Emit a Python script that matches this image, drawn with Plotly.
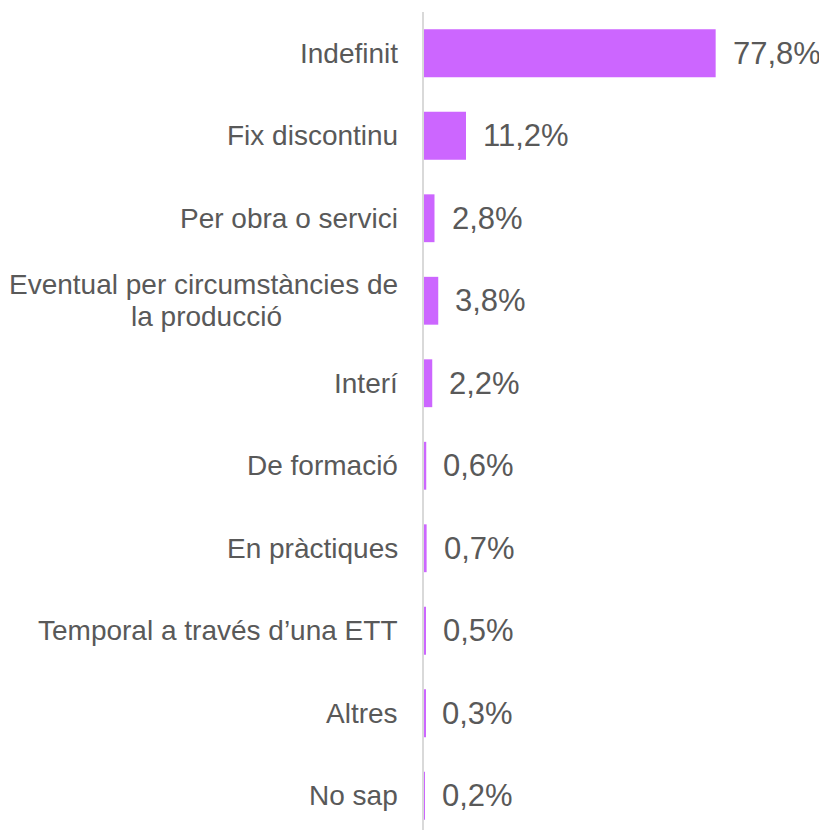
import plotly.graph_objects as go

categories = ["Indefinit", "Fix discontinu", "Per obra o servici",
              "Eventual per circumstàncies de<br>la producció", "Interí",
              "De formació", "En pràctiques", "Temporal a través d’una ETT",
              "Altres", "No sap"]
values = [77.8, 11.2, 2.8, 3.8, 2.2, 0.6, 0.7, 0.5, 0.3, 0.2]
value_labels = ["77,8%", "11,2%", "2,8%", "3,8%", "2,2%", "0,6%", "0,7%", "0,5%", "0,3%", "0,2%"]

FONT = "Liberation Sans, Arial, sans-serif"
TXT = "#595959"
LINE_H = 32

fig = go.Figure(go.Bar(
    x=values, y=categories, orientation="h",
    marker=dict(color="#CC66FF", line=dict(width=0)),
    width=0.58,
))

annotations = []
for c, v, t in zip(categories, values, value_labels):
    annotations.append(dict(x=v, y=c, xref="x", yref="y", text=t, showarrow=False,
                            xanchor="left", xshift=15,
                            font=dict(family=FONT, size=31, color=TXT)))
    lines = c.split("<br>")
    n = len(lines)
    # widest line sets the box; centre each line under it
    for i, line in enumerate(lines):
        annotations.append(dict(x=0, y=c, xref="paper", yref="y", text=line, showarrow=False,
                                xanchor="right" if i == 0 else "center",
                                xshift=-24 if i == 0 else -24 - 194,
                                yshift=((n - 1) / 2 - i) * LINE_H,
                                font=dict(family=FONT, size=28, color=TXT)))

fig.update_layout(
    width=819, height=822,
    margin=dict(l=416, r=0, t=4, b=0),
    paper_bgcolor="white", plot_bgcolor="white",
    showlegend=False,
    annotations=annotations,
    bargap=0.42,
)
fig.update_xaxes(range=[0, 107.5], visible=False, fixedrange=True)
fig.update_yaxes(autorange=False, range=[9.415, -0.5], showticklabels=False,
                 showline=True, linecolor="#d9d9d9", linewidth=2,
                 showgrid=False, zeroline=False, ticks="")

fig.write_html("out.html")
